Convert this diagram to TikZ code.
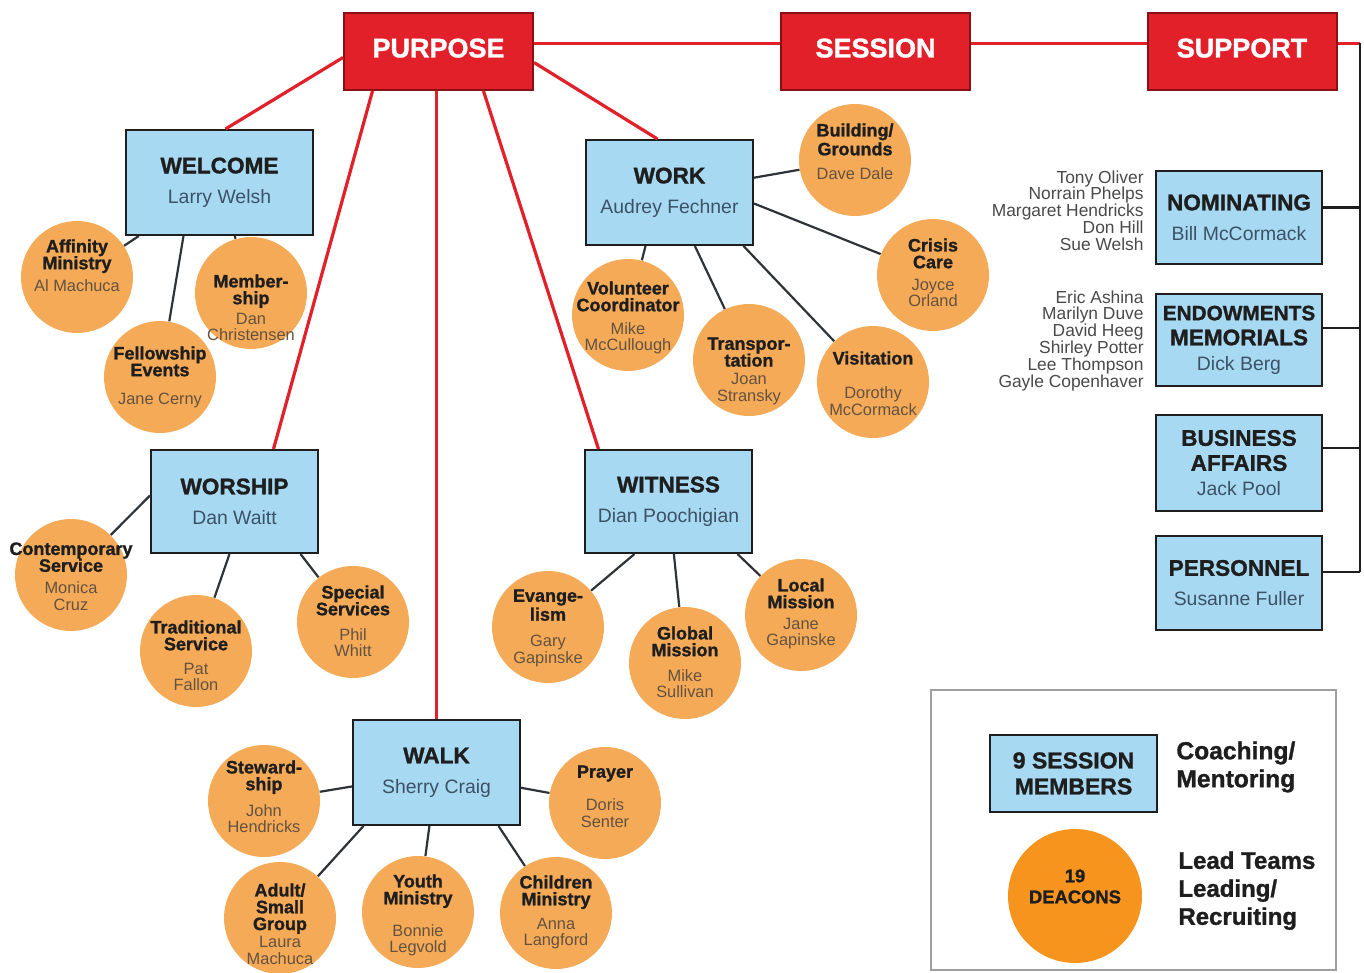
\documentclass[tikz,border=0pt]{standalone}
\usepackage{fontspec}
\setmainfont{Liberation Sans}[BoldFeatures={FakeBold=1.2}]
\usetikzlibrary{calc}
\definecolor{cRed}{HTML}{E2202A}
\definecolor{cRedEdge}{HTML}{8A1015}
\definecolor{cBlue}{HTML}{A8D9F2}
\definecolor{cOrange}{HTML}{F5AA58}
\definecolor{cDeacon}{HTML}{F7941D}
\definecolor{cInk}{HTML}{1E1E1E}
\definecolor{cBName}{HTML}{3B5266}
\definecolor{cCName}{HTML}{635240}
\definecolor{cLine}{HTML}{2E3338}
\definecolor{cSName}{HTML}{4A4A4A}
\newcommand\btl[1]{{\fontsize{11.3}{15}\selectfont\bfseries\color{cInk}#1}}
\newcommand\bnm[1]{{\fontsize{9.7}{15}\selectfont\color{cBName}#1}}
\newcommand\ctl[1]{{\bfseries\color{cInk}#1}}
\newcommand\cnm[1]{{\fontsize{8.2}{8.4}\selectfont\color{cCName}#1}}
\begin{document}
\begin{tikzpicture}[x=0.5pt,y=-0.5pt,
  hdr/.style={draw=cRedEdge, line width=1pt, fill=cRed, minimum width=94.5pt, minimum height=38.5pt,
    inner sep=0pt, text=white, text depth=3.5pt, font=\fontsize{13.5}{14}\selectfont\bfseries},
  bbox/.style={draw=cInk, line width=1pt, fill=cBlue, inner sep=0pt, align=center,
    font=\fontsize{9.7}{15}\selectfont},
  bbox3/.style={bbox, font=\fontsize{9.7}{12.5}\selectfont},
  circ/.style={circle, fill=cOrange, minimum size=56pt, inner sep=0pt},
  ctext/.style={anchor=north, align=center, inner sep=0pt, font=\fontsize{9}{8.4}\selectfont},
  snames/.style={anchor=north east, align=right, inner sep=0pt, text=cSName, font=\fontsize{8.7}{8.4}\selectfont},
  conn/.style={draw=cLine, line width=1.1pt},
  redl/.style={draw=cRed, line width=1.6pt},
  blkl/.style={draw=cInk, line width=1.3pt},
  legtext/.style={anchor=north west, align=left, inner sep=0pt, text=cInk, font=\fontsize{12}{14}\selectfont\bfseries}
]
\fill[white] (0,0) rectangle (1364,973);
\useasboundingbox (0,0) rectangle (1364,973);

% headers
\node[hdr] (purpose) at (438.5,51.5) {PURPOSE};
\node[hdr] (session) at (875.5,51.5) {SESSION};
\node[hdr] (support) at (1242,51.5) {SUPPORT};

% main boxes
\node[bbox, minimum width=93.5pt, minimum height=52.5pt] (welcome) at (219.5,182.5) {\btl{WELCOME}\\\bnm{Larry Welsh}};
\node[bbox, minimum width=83.5pt, minimum height=52.5pt] (work) at (669.5,192.5) {\btl{WORK}\\\bnm{Audrey Fechner}};
\node[bbox, minimum width=83.5pt, minimum height=51.5pt] (worship) at (234.5,501.5) {\btl{WORSHIP}\\\bnm{Dan Waitt}};
\node[bbox, minimum width=83.5pt, minimum height=51.5pt] (witness) at (668.5,501.5) {\btl{WITNESS}\\\bnm{Dian Poochigian}};
\node[bbox, minimum width=83.5pt, minimum height=52.5pt] (walk) at (436.5,772.5) {\btl{WALK}\\\bnm{Sherry Craig}};

% support boxes
\node[bbox, minimum width=83pt, minimum height=46.5pt] (nom) at (1239,217.5) {\btl{NOMINATING}\\\bnm{Bill McCormack}};
\node[bbox3, minimum width=83pt, minimum height=46pt] (endow) at (1239,340) {{\fontsize{10.4}{12.5}\selectfont\bfseries\color{cInk}ENDOWMENTS}\\\btl{MEMORIALS}\\\bnm{Dick Berg}};
\node[bbox3, minimum width=83pt, minimum height=48pt] (bus) at (1239,463) {\btl{BUSINESS}\\\btl{AFFAIRS}\\\bnm{Jack Pool}};
\node[bbox, minimum width=83pt, minimum height=47pt] (pers) at (1239,583) {\btl{PERSONNEL}\\\bnm{Susanne Fuller}};

\node[snames] (nomnames) at (1144,170) {Tony Oliver\\Norrain Phelps\\Margaret Hendricks\\Don Hill\\Sue Welsh};
\node[snames] (endnames) at (1144,290) {Eric Ashina\\Marilyn Duve\\David Heeg\\Shirley Potter\\Lee Thompson\\Gayle Copenhaver};

% circles
\node[circ] (aff) at (77,277) {};
\node[circ] (mem) at (251,293) {};
\node[circ] (fel) at (160,377) {};
\node[circ] (bld) at (855,160) {};
\node[circ] (cri) at (933,275) {};
\node[circ] (vol) at (628,315) {};
\node[circ] (tra) at (749,360) {};
\node[circ] (vis) at (873,382) {};
\node[circ] (con) at (71,575) {};
\node[circ] (trd) at (196,651) {};
\node[circ] (spe) at (353,622) {};
\node[circ] (eva) at (548,627) {};
\node[circ] (glo) at (685,663) {};
\node[circ] (loc) at (801,615) {};
\node[circ] (ste) at (264,801) {};
\node[circ] (pra) at (605,803) {};
\node[circ] (adu) at (280,918) {};
\node[circ] (you) at (418,912) {};
\node[circ] (chi) at (556,913) {};

% circle texts
\node[ctext] (aff-t) at (77,239) {\ctl{Affinity}\\\ctl{Ministry}\\[2.5pt]\cnm{Al Machuca}};
\node[ctext] (mem-t) at (251,274) {\ctl{Member-}\\\ctl{ship}\\[1.5pt]\cnm{Dan}\\\cnm{Christensen}};
\node[ctext] (fel-t) at (160,346) {\ctl{Fellowship}\\\ctl{Events}\\[5.5pt]\cnm{Jane Cerny}};
\node[ctext] (bld-t) at (855,123) {\ctl{Building/}\\\ctl{Grounds}\\[3.5pt]\cnm{Dave Dale}};
\node[ctext] (cri-t) at (933,238) {\ctl{Crisis}\\\ctl{Care}\\[2.5pt]\cnm{Joyce}\\\cnm{Orland}};
\node[ctext] (vol-t) at (628,281) {\ctl{Volunteer}\\\ctl{Coordinator}\\[3pt]\cnm{Mike}\\\cnm{McCullough}};
\node[ctext] (tra-t) at (749,337) {\ctl{Transpor-}\\\ctl{tation}\\[0.5pt]\cnm{Joan}\\\cnm{Stransky}};
\node[ctext] (vis-t) at (873,351) {\ctl{Visitation}\\[8.5pt]\cnm{Dorothy}\\\cnm{McCormack}};
\node[ctext] (con-t) at (71,542) {\ctl{Contemporary}\\\ctl{Service}\\[2.5pt]\cnm{Monica}\\\cnm{Cruz}};
\node[ctext] (trd-t) at (196,620) {\ctl{Traditional}\\\ctl{Service}\\[3.5pt]\cnm{Pat}\\\cnm{Fallon}};
\node[ctext] (spe-t) at (353,585) {\ctl{Special}\\\ctl{Services}\\[4pt]\cnm{Phil}\\\cnm{Whitt}};
\node[ctext] (eva-t) at (548,589) {\ctl{Evange-}\\\ctl{lism}\\[4.5pt]\cnm{Gary}\\\cnm{Gapinske}};
\node[ctext] (glo-t) at (685,626) {\ctl{Global}\\\ctl{Mission}\\[4pt]\cnm{Mike}\\\cnm{Sullivan}};
\node[ctext] (loc-t) at (801,578) {\ctl{Local}\\\ctl{Mission}\\[2pt]\cnm{Jane}\\\cnm{Gapinske}};
\node[ctext] (ste-t) at (264,760) {\ctl{Steward-}\\\ctl{ship}\\[4.5pt]\cnm{John}\\\cnm{Hendricks}};
\node[ctext] (pra-t) at (605,765) {\ctl{Prayer}\\[8pt]\cnm{Doris}\\\cnm{Senter}};
\node[ctext] (adu-t) at (280,883) {\ctl{Adult/}\\\ctl{Small}\\\ctl{Group}\\[0.5pt]\cnm{Laura}\\\cnm{Machuca}};
\node[ctext] (you-t) at (418,874) {\ctl{Youth}\\\ctl{Ministry}\\[7.5pt]\cnm{Bonnie}\\\cnm{Legvold}};
\node[ctext] (chi-t) at (556,875) {\ctl{Children}\\\ctl{Ministry}\\[3.5pt]\cnm{Anna}\\\cnm{Langford}};

% connectors boxes -> circles
\draw[conn] (welcome) -- (aff);
\draw[conn] ([xshift=-18pt]welcome.south) -- (fel);
\draw[conn] (welcome) -- (mem);
\draw[conn] (work) -- (bld);
\draw[conn] ([yshift=-5.5pt]work.east) -- (cri);
\draw[conn] ([xshift=-12pt]work.south) -- (vol);
\draw[conn] (work) -- (tra);
\draw[conn] ([xshift=37pt]work.south) -- (vis);
\draw[conn] ([yshift=3pt]worship.west) -- (con);
\draw[conn] ([xshift=-2.5pt]worship.south) -- (trd);
\draw[conn] ([xshift=33pt]worship.south) -- (spe);
\draw[conn] ([xshift=-17pt]witness.south) -- (eva);
\draw[conn] (witness) -- (glo);
\draw[conn] ([xshift=34.5pt]witness.south) -- (loc);
\draw[conn] (walk) -- (ste);
\draw[conn] (walk) -- (pra);
\draw[conn] ([xshift=-36.5pt]walk.south) -- (adu);
\draw[conn] (walk) -- (you);
\draw[conn] ([xshift=31pt]walk.south) -- (chi);

% red connectors
\draw[redl] ([yshift=4pt]purpose.east) -- ([yshift=4pt]session.west);
\draw[redl] ([yshift=4pt]session.east) -- ([yshift=4pt]support.west);
\draw[redl] ([yshift=-3pt]purpose.west) -- ([xshift=3pt]welcome.north);
\draw[redl] ([xshift=-33pt]purpose.south) -- ([xshift=19.5pt]worship.north);
\draw[redl] (purpose.south -| walk.north) -- (walk.north);
\draw[redl] ([xshift=22.5pt]purpose.south) -- ([xshift=-35pt]witness.north);
\draw[redl] ([yshift=-5.5pt]purpose.east) -- ([xshift=-6pt]work.north);

% support bus
\coordinate (scorner) at (1360,43.5);
\coordinate (n1) at ([yshift=5pt]nom.east);
\coordinate (e1) at ([yshift=6pt]endow.east);
\coordinate (b1) at ([yshift=7.5pt]bus.east);
\coordinate (p1) at ([yshift=5.5pt]pers.east);
\draw[redl] ([yshift=4pt]support.east) -- (scorner);
\draw[blkl] (scorner) -- (p1 -| scorner);
\draw[blkl] (n1) -- (n1 -| scorner);
\draw[blkl] (e1) -- (e1 -| scorner);
\draw[blkl] (b1) -- (b1 -| scorner);
\draw[blkl] (p1) -- (p1 -| scorner);

% legend
\draw[draw=gray!75, line width=1pt] (931,690) rectangle (1336,970);
\node[bbox, minimum width=83.5pt, minimum height=38.5pt, font=\fontsize{11.5}{13}\selectfont\bfseries, text=cInk] (ses9) at (1073.5,773.5) {9 SESSION\\MEMBERS};
\node[circle, fill=cDeacon, minimum size=67pt, inner sep=0pt] (deacons) at (1075,896) {};
\node[anchor=north, align=center, inner sep=0pt, text=cInk, font=\fontsize{9.2}{10.5}\selectfont\bfseries] (deacons-t) at (1075,869) {19\\DEACONS};
\node[legtext, font=\fontsize{12.3}{14}\selectfont\bfseries] (coach) at (1176,741) {Coaching/\\Mentoring};
\node[legtext] (lead) at (1178,851) {Lead Teams\\Leading/\\Recruiting};
\end{tikzpicture}
\end{document}
